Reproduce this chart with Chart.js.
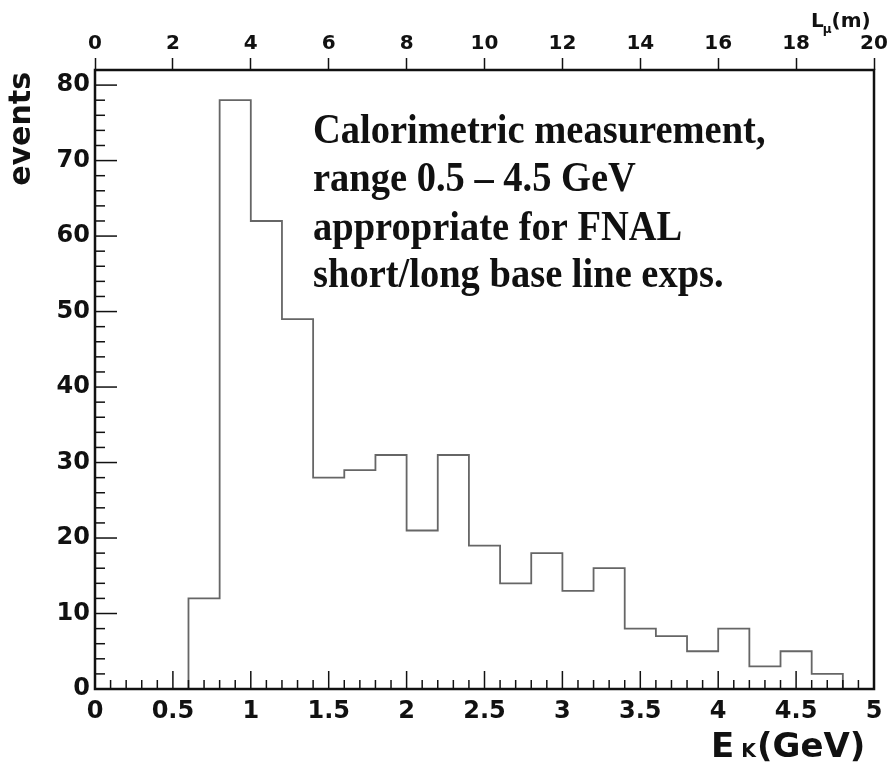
<!DOCTYPE html>
<html>
<head>
<meta charset="utf-8">
<script src="https://cdn.jsdelivr.net/npm/chart.js@4/dist/chart.umd.min.js"></script>
<style>
  html, body { margin: 0; padding: 0; background: #fff; }
  #wrap { width: 893px; height: 762px; }
</style>
</head>
<body>
<div id="wrap"><canvas id="histChart" width="893" height="762"></canvas></div>
<script>
// histogram: left bin edges (GeV) and counts per 0.2 GeV bin
const binEdges = [0.6, 0.8, 1.0, 1.2, 1.4, 1.6, 1.8, 2.0, 2.2, 2.4, 2.6, 2.8, 3.0, 3.2, 3.4, 3.6, 3.8, 4.0, 4.2, 4.4, 4.6];
const counts = [12, 78, 62, 49, 28, 29, 31, 21, 31, 19, 14, 18, 13, 16, 8, 7, 5, 8, 3, 5, 2];
const lastEdge = 4.8;

const energyRange = [0, 5];
const lengthRange = [0, 20];
const eventsRange = [0, 82];

const noteLines = [
  'Calorimetric measurement,',
  'range 0.5 \u2013 4.5 GeV',
  'appropriate for FNAL',
  'short/long base line exps.'
];

const points = [{ x: binEdges[0], y: 0 }];
binEdges.forEach((e, i) => points.push({ x: e, y: counts[i] }));
points.push({ x: lastEdge, y: 0 });

const sans = '"DejaVu Sans", sans-serif';
const ink = '#111';

const framePlugin = {
  id: 'frame',
  afterDraw(chart) {
    const ctx = chart.ctx;
    const a = chart.chartArea;
    const x = chart.scales.x, y = chart.scales.y;
    ctx.save();
    ctx.strokeStyle = ink;

    // inner tick marks on bottom axis
    ctx.lineWidth = 1.5;
    for (let i = 0; i <= 50; i++) {
      const px = x.getPixelForValue(i / 10);
      const len = i % 5 === 0 ? 18 : 9;
      ctx.beginPath();
      ctx.moveTo(px, a.bottom);
      ctx.lineTo(px, a.bottom - len);
      ctx.stroke();
    }
    // inner tick marks on left axis
    for (let v = 0; v <= 80; v += 2) {
      const py = y.getPixelForValue(v);
      const len = v % 10 === 0 ? 22 : 10;
      ctx.beginPath();
      ctx.moveTo(a.left, py);
      ctx.lineTo(a.left + len, py);
      ctx.stroke();
    }

    // frame
    ctx.lineWidth = 2.5;
    ctx.strokeRect(a.left, a.top, a.right - a.left, a.bottom - a.top);

    // y title
    ctx.fillStyle = ink;
    ctx.save();
    ctx.translate(30, a.top + 2);
    ctx.rotate(-Math.PI / 2);
    ctx.font = 'bold 30px ' + sans;
    ctx.textAlign = 'right';
    ctx.textBaseline = 'alphabetic';
    ctx.fillText('events', 0, 0);
    ctx.restore();

    // x title  E_K(GeV)
    ctx.textAlign = 'left';
    ctx.textBaseline = 'alphabetic';
    let tx = 711;
    ctx.font = 'bold 34px ' + sans;
    ctx.fillText('E', tx, 757);
    tx += ctx.measureText('E').width + 7;
    ctx.font = 'bold 19px ' + sans;
    ctx.fillText('K', tx, 757);
    tx += ctx.measureText('K').width + 1;
    ctx.font = 'bold 34px ' + sans;
    ctx.fillText('(GeV)', tx, 757);

    // top title  L_mu(m)
    let lx = 811;
    ctx.font = 'bold 20px ' + sans;
    ctx.fillText('L', lx, 27);
    lx += ctx.measureText('L').width - 1;
    ctx.font = 'bold 12px ' + sans;
    ctx.fillText('\u03bc', lx, 33);
    lx += ctx.measureText('\u03bc').width;
    ctx.font = 'bold 20px ' + sans;
    ctx.fillText('(m)', lx, 27);

    // annotation
    ctx.font = 'bold 38.5px "Liberation Serif", "Times New Roman", serif';
    const baselines = [143, 191, 240, 287];
    noteLines.forEach((t, i) => {
      ctx.save();
      ctx.translate(313, baselines[i]);
      ctx.scale(1, 1.1);
      ctx.fillText(t, 0, 0);
      ctx.restore();
    });
    ctx.restore();
  }
};

new Chart(document.getElementById('histChart'), {
  type: 'line',
  data: {
    datasets: [{
      data: points,
      stepped: true,
      borderColor: '#666',
      borderWidth: 1.8,
      pointRadius: 0,
      fill: false
    }]
  },
  options: {
    responsive: false,
    animation: false,
    layout: { padding: { left: 0, right: 19, top: 0, bottom: 0 } },
    plugins: { legend: { display: false }, tooltip: { enabled: false } },
    scales: {
      x: {
        type: 'linear',
        position: 'bottom',
        min: energyRange[0],
        max: energyRange[1],
        border: { display: false },
        grid: { display: false, drawTicks: false },
        ticks: {
          stepSize: 0.5,
          padding: 8,
          color: ink,
          maxRotation: 0,
          font: { family: sans, size: 24, weight: 'bold' },
          callback: v => String(v)
        },
        afterFit: s => { s.height = 73; }
      },
      x2: {
        type: 'linear',
        position: 'top',
        min: lengthRange[0],
        max: lengthRange[1],
        border: { display: false },
        grid: { drawOnChartArea: false, drawTicks: true, tickLength: 12, color: ink, tickWidth: 1.5 },
        ticks: {
          stepSize: 2,
          padding: 2,
          color: ink,
          maxRotation: 0,
          font: { family: sans, size: 20, weight: 'bold' }
        },
        afterFit: s => { s.height = 70; }
      },
      y: {
        min: eventsRange[0],
        max: eventsRange[1],
        border: { display: false },
        grid: { display: false, drawTicks: false },
        ticks: {
          stepSize: 10,
          includeBounds: false,
          padding: 5,
          color: ink,
          font: { family: sans, size: 24, weight: 'bold' }
        },
        afterFit: s => { s.height = s.height; s.width = 95; }
      }
    }
  },
  plugins: [framePlugin]
});
</script>
</body>
</html>
